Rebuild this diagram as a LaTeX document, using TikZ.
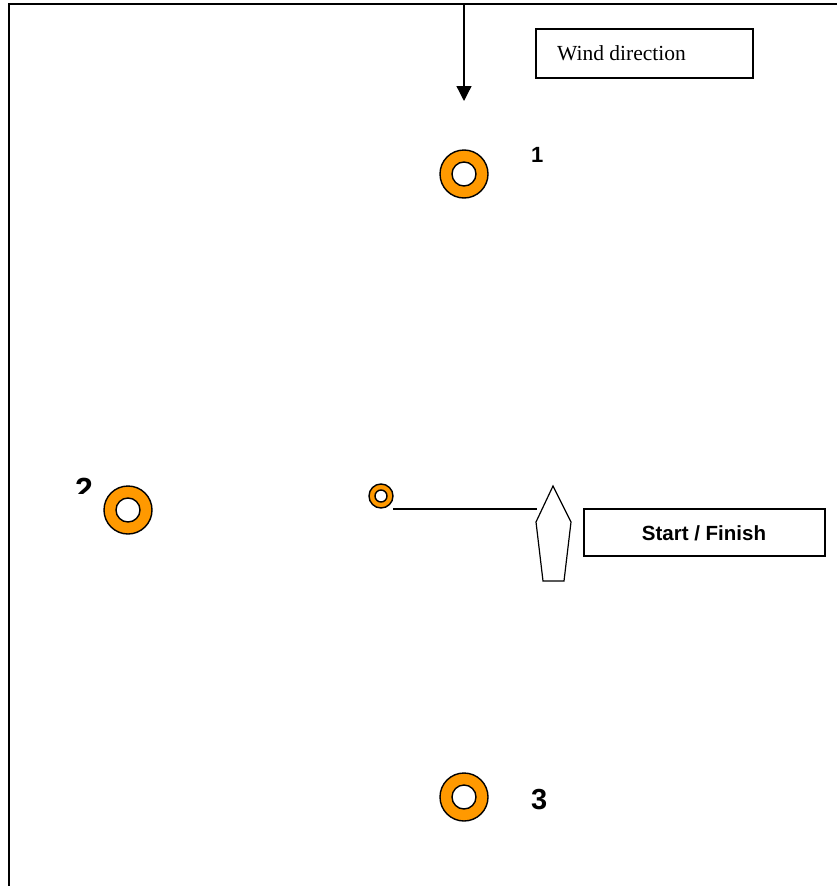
\documentclass[tikz,border=0pt]{standalone}
\usepackage{fontspec}
\setmainfont{Liberation Serif}
\newfontfamily\labfont{Liberation Sans}
\usetikzlibrary{arrows.meta}
\definecolor{buoyorange}{RGB}{255,153,0}
\begin{document}
\begin{tikzpicture}[x=1pt,y=-1pt,
  outerbuoy/.style={circle,draw=black,line width=1.4pt,fill=buoyorange,inner sep=0pt,minimum size=#1},
  innerbuoy/.style={circle,draw=black,line width=1.4pt,fill=white,inner sep=0pt,minimum size=#1},
  textbox/.style={draw=black,line width=1.3pt,inner sep=0pt},
  numlabel/.style={font=\labfont\bfseries\fontsize{#1}{#1}\selectfont,inner sep=0pt,anchor=base west},
  thinline/.style={line width=1.2pt}]
\useasboundingbox (0,0) rectangle (837,886);
% frame
\draw[line width=2pt] (9,887) -- (9,4) -- (838,4);
% wind arrow
\coordinate (windtop) at (464,4);
\coordinate (windtip) at (464,101);
\draw[line width=1.3pt,-{Triangle[width=15pt,length=15pt]}] (windtop) -- (windtip);
% wind direction box
\node[textbox,minimum width=217pt,minimum height=49pt] (windbox) at (644.5,53.5) {};
\node[font=\fontsize{21.5}{24}\selectfont,inner sep=0pt,anchor=base west] (windtext) at (557,60) {Wind direction};
% buoy 1
\node[outerbuoy=48pt] (b1) at (464,174) {};
\node[innerbuoy=24pt] (b1i) at (464,174) {};
\node[numlabel=22] (l1) at (531,162) {1};
% buoy 2
\node[outerbuoy=48pt] (b2) at (128,510) {};
\node[innerbuoy=24pt] (b2i) at (128,510) {};
\begin{scope}
\clip (60,460) rectangle (110,493.5);
\node[numlabel=32] (l2) at (75,500) {2};
\end{scope}
% buoy 3
\node[outerbuoy=48pt] (b3) at (464,797) {};
\node[innerbuoy=24pt] (b3i) at (464,797) {};
\node[numlabel=29] (l3) at (531,809) {3};
% small start buoy
\node[outerbuoy=24pt] (sb) at (381,496) {};
\node[innerbuoy=12pt] (sbi) at (381,496) {};
% start line
\coordinate (lineL) at (393,509);
\coordinate (lineR) at (537,509);
\draw[thinline] (lineL) -- (lineR);
% committee boat
\draw[thinline,line join=miter,fill=white] (553,486) -- (571,522) -- (564,581) -- (543,581) -- (536,522) -- cycle;
% start / finish box
\node[textbox,minimum width=241pt,minimum height=47pt] (sfbox) at (704.5,532.5) {};
\node[font=\labfont\bfseries\fontsize{20.5}{24}\selectfont,inner sep=0pt,anchor=base] (sftext) at (704,540) {Start / Finish};
\end{tikzpicture}
\end{document}
